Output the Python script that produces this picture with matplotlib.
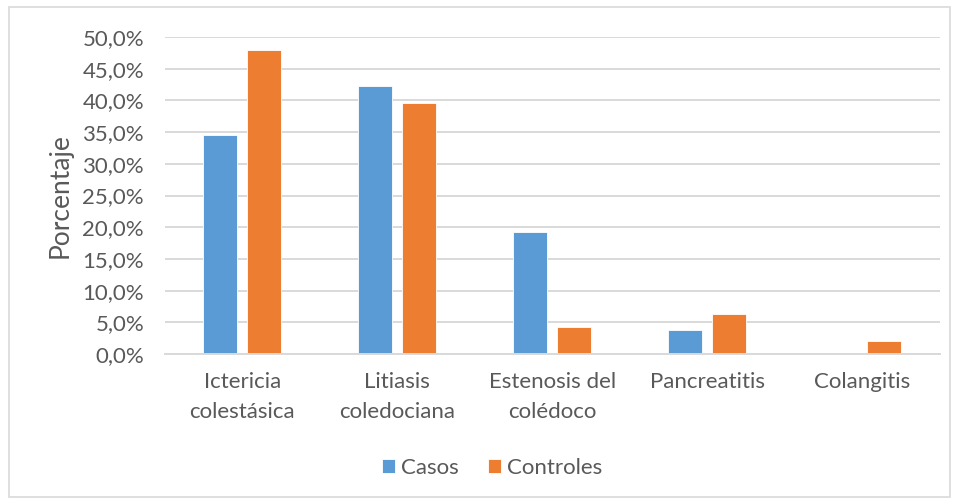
import numpy as np
import matplotlib
matplotlib.use('Agg')
from matplotlib import pyplot as plt
from matplotlib.patches import Rectangle
from matplotlib.ticker import FuncFormatter

categorias = ['Ictericia\ncolestásica', 'Litiasis\ncoledociana', 'Estenosis del\ncolédoco',
              'Pancreatitis', 'Colangitis']
casos = [34.6, 42.3, 19.2, 3.8, 0.0]
controles = [47.9, 39.6, 4.2, 6.3, 2.1]

AZUL = '#5b9bd5'
NARANJA = '#ed7d31'
GRIS_TXT = '#595959'
GRIS_LIN = '#d9d9d9'

plt.rcParams['font.family'] = ['Lato', 'DejaVu Sans']

fig = plt.figure(figsize=(9.59, 5.04), dpi=100)
ax = fig.add_axes([0.172, 0.2976, 0.808, 0.629])

x = np.arange(len(categorias))
w = 0.22
ax.bar(x - 0.142, casos, w, color=AZUL, label='Casos', edgecolor='white', linewidth=0.6)
ax.bar(x + 0.142, controles, w, color=NARANJA, label='Controles', edgecolor='white', linewidth=0.6)

ax.set_xlim(-0.5, len(categorias) - 0.5)
ax.set_ylim(0, 50)
ax.set_yticks(np.arange(0, 51, 5))
ax.yaxis.set_major_formatter(FuncFormatter(lambda v, p: f'{v:.1f}%'.replace('.', ',')))
ax.grid(axis='y', color=GRIS_LIN, linewidth=1.4)
ax.set_axisbelow(True)
for s in ['top', 'right', 'left']:
    ax.spines[s].set_visible(False)
ax.spines['bottom'].set_color(GRIS_LIN)
ax.spines['bottom'].set_linewidth(1.4)
ax.tick_params(length=0, labelsize=16, colors=GRIS_TXT)
ax.tick_params(axis='y', pad=15)
ax.tick_params(axis='x', pad=13)
ax.set_xticks(x)
ax.set_xticklabels(categorias, linespacing=1.65)
ax.set_ylabel('Porcentaje', fontsize=19, color=GRIS_TXT, labelpad=7)

leg = fig.legend(loc='center', bbox_to_anchor=(0.513, 0.072), ncol=2, frameon=False,
                 fontsize=16, handlelength=0.6, handleheight=0.6, handletextpad=0.25,
                 columnspacing=1.3)
for t in leg.get_texts():
    t.set_color(GRIS_TXT)

fig.patches.append(Rectangle((0.009, 0.014), 0.982, 0.972, transform=fig.transFigure,
                             fill=False, edgecolor=GRIS_LIN, linewidth=1.2))

fig.savefig('out.png', dpi=100)
